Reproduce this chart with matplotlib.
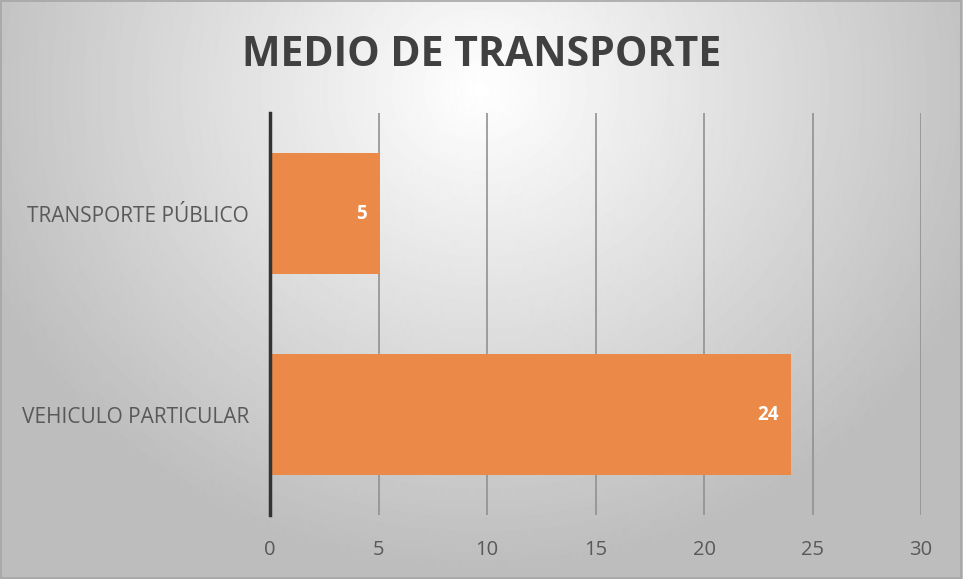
import numpy as np
import matplotlib
matplotlib.use('Agg')
import matplotlib.pyplot as plt

categories = ['VEHICULO PARTICULAR', 'TRANSPORTE PÚBLICO']
values = [24, 5]
xticks = [0, 5, 10, 15, 20, 25, 30]
title = 'MEDIO DE TRANSPORTE'

fig = plt.figure(figsize=(9.63, 5.79), dpi=100)

# radial gradient background
bg = fig.add_axes([0, 0, 1, 1], zorder=0)
yy, xx = np.mgrid[0:579, 0:963]
r = np.sqrt(((xx - 480) / 560.0) ** 2 + ((yy - 90) / 500.0) ** 2)
shade = np.clip(1.0 - 0.27 * r, 0.74, 1.0)
bg.imshow(shade, cmap='gray', vmin=0, vmax=1, aspect='auto', extent=[0, 1, 0, 1])
bg.set_xlim(0, 1)
bg.set_ylim(0, 1)
bg.axis('off')
bg.add_patch(plt.Rectangle((0.001, 0.002), 0.997, 0.996, fill=False, ec='#a6a6a6', lw=1.2))

ax = fig.add_axes([0.2804, 0.1105, 0.676, 0.694], zorder=1)
ax.patch.set_alpha(0)
ypos = np.arange(len(categories))
bars = ax.barh(ypos, values, height=0.6, color='#EB8A48', zorder=3)
ax.set_xlim(0, 30)
ax.set_ylim(-0.5, 1.5)
ax.set_xticks(xticks)
ax.set_yticks(ypos)
ax.set_yticklabels(categories)
ax.grid(axis='x', color='#919191', lw=1.2, zorder=1)
ax.tick_params(length=0, colors='#595959', labelsize=14.5)
ax.tick_params(axis='x', pad=18)
ax.tick_params(axis='y', pad=15, labelsize=15)
for s in ['top', 'right', 'bottom']:
    ax.spines[s].set_visible(False)
ax.spines['left'].set_color('#333333')
ax.spines['left'].set_linewidth(2.5)
ax.spines['left'].set_zorder(4)

for lab in ax.get_xticklabels() + ax.get_yticklabels():
    lab.set_family('Open Sans')

for b, v in zip(bars, values):
    ax.text(v - 0.55, b.get_y() + b.get_height() / 2, str(v), ha='right', va='center',
            color='white', fontsize=13.5, fontweight='bold', family='Open Sans', zorder=5)

fig.text(0.5, 0.905, title, ha='center', va='center', fontsize=29.5, fontweight='bold',
         color='#404040', family='Open Sans')

fig.savefig('out.png', dpi=100)
